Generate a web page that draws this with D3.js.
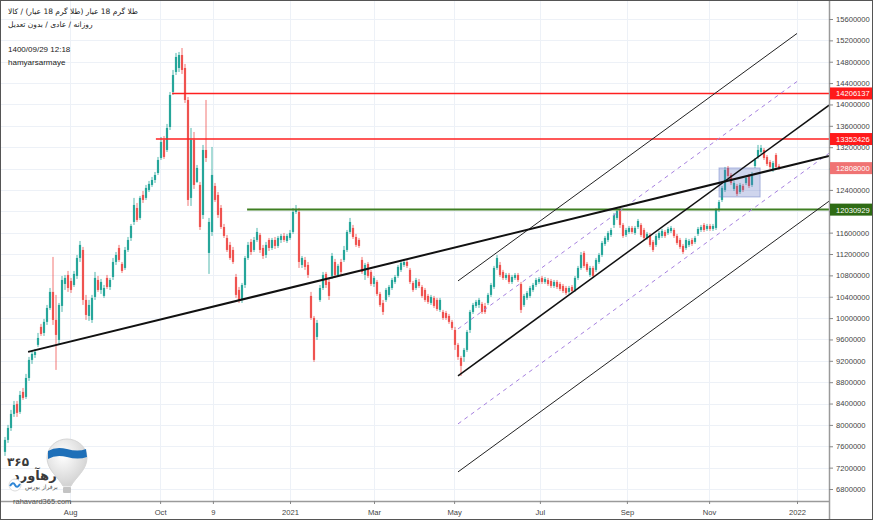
<!DOCTYPE html>
<html>
<head>
<meta charset="utf-8">
<script src="https://cdn.jsdelivr.net/npm/d3@7"></script>
<style>
body{margin:0;background:#fff;}
svg{display:block;font-family:'Liberation Sans',Arial,sans-serif;}
</style>
</head>
<body>
<div id="chart"></div>
<script>
// daily candles [open, high, low, close], thousand rials
const candles = [
[7495,7775,7420,7719],[7719,8000,7663,7943],[7943,8281,7887,8206],[8206,8449,8150,8374],[8393,8449,8150,8225],[8244,8636,8206,8561],[8618,8692,8468,8505],[8524,8955,8486,8879],
[8879,9273,8823,9217],[9217,9385,9142,9329],[9310,9423,9254,9366],[9498,9722,9460,9628],[9835,9891,9666,9703],[9722,9985,9666,9929],[9929,10246,9872,10190],[10190,10564,10153,10490],
[10490,11145,9872,9966],[9966,10434,9030,9685],[9591,10284,9498,10246],[10228,10789,10115,10714],[10639,10808,10527,10752],[10808,10883,10490,10564],[10695,10752,10471,10527],[10620,10883,10583,10827],
[10789,11182,10733,11126],[11126,11444,11051,11370],[11276,11332,10246,10340],[10340,10434,9966,10059],[10040,10340,9947,10246],[9966,10434,9910,10378],[10396,10864,10340,10752],[10714,10789,10490,10527],
[10527,10733,10452,10677],[10415,10620,10378,10564],[10752,10808,10546,10583],[10583,10752,10527,10714],[10770,11126,10714,11051],[11051,11238,10995,11182],[11313,11370,11051,11089],[11014,11051,10845,10883],
[10939,11332,10902,11276],[11276,11519,11238,11463],[11501,11763,11444,11725],[11800,12250,11744,12118],[12062,12156,11800,11838],[11875,12287,11838,12250],[12306,12381,12156,12212],[12250,12493,12212,12437],
[12399,12568,12362,12512],[12493,12643,12456,12586],[12586,12736,12530,12680],[12717,13017,12680,12961],[12998,13391,12961,13298],[13335,13410,12980,13017],[13148,13635,13110,13560],[13578,14234,13522,14178],
[14234,14646,14178,14552],[14608,14964,14552,14889],[14683,14983,14608,14926],[14926,15057,14571,14646],[14683,14758,14028,14084],[14084,14140,12100,12212],[12250,13560,12100,13335],[13335,13485,12418,12493],
[12549,12867,12530,12811],[12493,12549,11650,11706],[11931,13242,11856,13148],[13148,14084,12923,12998],[11220,11875,10827,11800],[11613,13204,11538,12680],[12474,12530,12174,12212],[12306,12362,11875,11931],
[12062,12118,11669,11706],[11706,11763,11501,11538],[11501,11557,11238,11276],[11370,11426,11089,11126],[11276,11332,11014,11051],[10770,10827,10378,10434],[10527,10583,10284,10340],[10340,10658,10284,10620],
[10620,11164,10564,11126],[11126,11426,11089,11370],[11426,11482,11182,11238],[11276,11519,11238,11463],[11463,11688,11426,11613],[11557,11594,11220,11276],[11313,11370,11108,11164],[11182,11426,11126,11370],
[11463,11501,11257,11313],[11313,11501,11276,11463],[11463,11519,11295,11351],[11351,11538,11313,11501],[11463,11576,11407,11538],[11538,11594,11426,11463],[11444,11576,11407,11538],[11501,11650,11463,11594],
[11613,12062,11576,11987],[11987,12118,11950,12044],[11987,12062,10939,11051],[10995,11164,10939,11126],[11089,11145,10902,10958],[10995,11051,10752,10808],[10415,10490,9966,10003],[10003,10040,9180,9217],
[9647,9966,9591,9910],[10340,10620,10303,10564],[10564,10864,10527,10808],[10827,10864,10564,10620],[10677,10752,10340,10415],[10789,11220,10733,11164],[11051,11108,10752,10808],[10808,11014,10770,10977],
[11051,11108,10808,10864],[11089,11351,11051,11276],[11276,11650,11238,11613],[11613,11875,11576,11800],[11688,11744,11482,11519],[11519,11576,11332,11370],[11463,11501,11313,11351],[11089,11145,10827,10864],
[10808,11033,10714,10995],[11014,11051,10752,10789],[10864,10902,10602,10639],[10639,10789,10583,10752],[10677,10714,10415,10452],[10452,10490,10209,10246],[10284,10340,10059,10115],[10340,10564,10303,10527],
[10434,10620,10396,10583],[10564,10752,10527,10714],[10677,10808,10639,10770],[10789,10995,10752,10958],[10902,11070,10864,11033],[10995,11108,10958,11051],[11051,11108,10939,10977],[10902,10939,10639,10677],
[10658,10695,10490,10527],[10564,10752,10527,10714],[10677,10733,10564,10602],[10583,10620,10378,10415],[10527,10564,10303,10340],[10415,10452,10265,10303],[10284,10434,10246,10396],[10378,10415,10190,10228],
[10340,10378,10134,10171],[10153,10378,10115,10340],[10115,10153,9966,10003],[10096,10134,9966,10003],[10040,10078,9891,9929],[9929,9966,9778,9816],[9778,9835,9404,9498],[9498,9535,9217,9273],
[9254,9292,8917,9105],[9273,9441,9180,9404],[9404,9778,9366,9741],[9778,10153,9722,10115],[10115,10284,10078,10246],[10228,10340,10190,10303],[10246,10378,10190,10340],[10265,10303,10078,10115],
[10228,10284,10078,10115],[10284,10471,10246,10434],[10434,10658,10396,10620],[10583,10977,10546,10939],[10939,11182,10902,11126],[10995,11051,10770,10808],[10864,10902,10714,10752],[10752,10845,10714,10808],
[10808,10845,10639,10677],[10677,10808,10639,10770],[10752,10845,10714,10808],[10808,10845,10677,10714],[10639,10677,10096,10153],[10246,10452,10209,10415],[10378,10508,10340,10471],[10415,10602,10378,10564],
[10527,10658,10490,10620],[10620,10752,10583,10714],[10677,10770,10639,10733],[10752,10789,10639,10677],[10677,10770,10639,10733],[10714,10752,10602,10639],[10695,10733,10564,10602],[10602,10714,10564,10677],
[10677,10714,10546,10583],[10639,10677,10508,10546],[10602,10639,10471,10508],[10564,10602,10434,10471],[10490,10602,10452,10564],[10583,10620,10471,10508],[10527,10789,10490,10752],[10752,10977,10714,10939],
[10939,11238,10902,11182],[11220,11257,10939,10977],[11014,11051,10864,10902],[10808,10977,10770,10939],[10939,10977,10752,10789],[10902,11126,10864,11089],[11051,11220,11014,11182],[11182,11444,11145,11407],
[11388,11538,11351,11501],[11463,11632,11426,11594],[11557,11688,11519,11650],[11744,11969,11688,11931],[11875,12044,11838,12006],[12025,12081,11688,11744],[11744,11781,11501,11538],[11557,11688,11519,11650],
[11613,11725,11576,11688],[11688,11725,11576,11613],[11594,11725,11557,11688],[11706,11856,11669,11819],[11744,11781,11519,11557],[11650,11688,11463,11501],[11501,11613,11463,11576],[11557,11594,11332,11370],
[11426,11463,11238,11276],[11370,11576,11332,11538],[11501,11632,11463,11594],[11538,11669,11501,11632],[11613,11650,11501,11538],[11594,11706,11557,11669],[11632,11725,11594,11688],[11650,11688,11501,11538],
[11538,11576,11370,11407],[11463,11501,11295,11332],[11351,11388,11201,11238],[11313,11501,11276,11463],[11370,11482,11332,11444],[11463,11501,11351,11388],[11426,11538,11388,11501],[11576,11706,11538,11669],
[11650,11744,11613,11706],[11744,11781,11613,11650],[11669,11763,11632,11725],[11725,11763,11632,11669],[11669,11763,11632,11725],[11688,12062,11650,12025],[12025,12212,11987,12174],[12212,12474,12174,12437],
[12399,12830,12362,12774],[12811,12848,12624,12661],[12680,12717,12493,12530],[12418,12568,12381,12530],[12474,12512,12287,12325],[12362,12530,12325,12493],[12474,12512,12362,12399],[12530,12661,12493,12624],
[12661,12699,12437,12474],[12493,12736,12456,12699],[12848,12998,12811,12961],[13017,13242,12980,13148],[13110,13242,13073,13185],[13148,13185,12961,12998],[13017,13054,12848,12886],[12923,12961,12792,12830],
[12774,12942,12736,12905],[13054,13091,12792,12830],[12848,12886,12774,12808]
];

const priceTicks = [6800000,7200000,7600000,8000000,8400000,8800000,9200000,9600000,10000000,10400000,10800000,11200000,
  11600000,12000000,12400000,12800000,13200000,13600000,14000000,14400000,14800000,15200000,15600000];
const monthTicks = [21.7, 51.7, 69.3, 95, 123, 149.7, 178.3, 207.3, 234.7, 264];
const monthLabels = ['Aug','Oct','9','2021','Mar','May','Jul','Sep','Nov','2022'];

const levelValues = [14206137, 13352426, 12030929];
const levelStarts = [55.7, 50.3, 80.7];
const lastPrice = 12808000;

// drawings: [startIndex, startPrice, endIndex, endPrice]
const supportLine = [7.7, 9367000, 274.7, 13036000];
const channelLines = [
  [151, 10696000, 264, 15329000],
  [151, 9797000, 264, 14430000],
  [151, 8917000, 274.7, 13987000],
  [151, 8019000, 274.7, 13088000],
  [151, 7120000, 274.7, 12190000]
];
const boxZone = [238, 12811000, 251.7, 12268000];

const W = 873, H = 520, plotR = 829, plotB = 501;

const svg = d3.select('#chart').append('svg')
  .attr('width', W).attr('height', H);

const x = d3.scaleLinear().domain([0, candles.length - 1]).range([5, 779]);
const y = d3.scaleLinear().domain([6800000, 15600000]).range([489, 19]);

const defs = svg.append('defs');
defs.append('clipPath').attr('id', 'clip')
  .append('rect').attr('x', 0).attr('y', 0).attr('width', plotR).attr('height', plotB);

// grid
svg.append('g').selectAll('line').data(priceTicks).join('line')
  .attr('x1', 0).attr('x2', plotR)
  .attr('y1', d => Math.round(y(d)) + 0.5).attr('y2', d => Math.round(y(d)) + 0.5)
  .attr('stroke', '#edf1f7');
svg.append('g').selectAll('line').data(monthTicks).join('line')
  .attr('x1', d => Math.round(x(d)) + 0.5).attr('x2', d => Math.round(x(d)) + 0.5)
  .attr('y1', 0).attr('y2', plotB)
  .attr('stroke', '#edf1f7');

const plot = svg.append('g').attr('clip-path', 'url(#clip)');

// candles
const up = '#26a69a', down = '#ef5350';
const cg = plot.append('g').selectAll('g').data(candles).join('g');
cg.append('line')
  .attr('x1', (d, i) => x(i)).attr('x2', (d, i) => x(i))
  .attr('y1', d => y(d[1] * 1000)).attr('y2', d => y(d[2] * 1000))
  .attr('stroke', d => d[3] >= d[0] ? up : down).attr('stroke-width', 0.8);
cg.append('rect')
  .attr('x', (d, i) => x(i) - 1.1).attr('width', 2.2)
  .attr('y', d => y(Math.max(d[0], d[3]) * 1000))
  .attr('height', d => Math.max(1, Math.abs(y(d[0] * 1000) - y(d[3] * 1000))))
  .attr('fill', d => d[3] >= d[0] ? up : down);

// blue zone box
plot.append('rect')
  .attr('x', x(boxZone[0])).attr('y', y(boxZone[1]))
  .attr('width', x(boxZone[2]) - x(boxZone[0]))
  .attr('height', y(boxZone[3]) - y(boxZone[1]))
  .attr('fill', 'rgba(95,115,195,0.3)').attr('stroke', 'rgba(95,115,195,0.45)');

// horizontal levels
const levelColors = ['#ff2020', '#ff2020', '#3f7f22'];
plot.selectAll('.lvl').data(levelValues).join('line').attr('class', 'lvl')
  .attr('x1', (d, i) => x(levelStarts[i])).attr('x2', plotR)
  .attr('y1', d => y(d)).attr('y2', d => y(d))
  .attr('stroke', (d, i) => levelColors[i]).attr('stroke-width', (d, i) => i == 2 ? 2 : 1.5);

// channel
const chStyle = [
  {w: 1, c: '#222', dash: null},
  {w: 1, c: '#a680e0', dash: '4,4'},
  {w: 1.5, c: '#111', dash: null},
  {w: 1, c: '#a680e0', dash: '4,4'},
  {w: 1, c: '#222', dash: null}
];
plot.selectAll('.ch').data(channelLines).join('line').attr('class', 'ch')
  .attr('x1', d => x(d[0])).attr('y1', d => y(d[1]))
  .attr('x2', d => x(d[2])).attr('y2', d => y(d[3]))
  .attr('stroke', (d, i) => chStyle[i].c)
  .attr('stroke-width', (d, i) => chStyle[i].w)
  .attr('stroke-dasharray', (d, i) => chStyle[i].dash);

plot.append('line')
  .attr('x1', x(supportLine[0])).attr('y1', y(supportLine[1]))
  .attr('x2', x(supportLine[2])).attr('y2', y(supportLine[3]))
  .attr('stroke', '#111').attr('stroke-width', 2);

// axes lines
svg.append('line').attr('x1', 0).attr('x2', plotR).attr('y1', plotB + 0.5).attr('y2', plotB + 0.5)
  .attr('stroke', '#9a9a9a').attr('stroke-width', 1.5);
svg.append('line').attr('x1', plotR + 0.5).attr('x2', plotR + 0.5).attr('y1', 0).attr('y2', H)
  .attr('stroke', '#9a9a9a').attr('stroke-width', 1.5);

// right axis
const yAxis = d3.axisRight(y).tickValues(priceTicks).tickSize(4).tickPadding(3).tickFormat(d3.format('d'));
const ya = svg.append('g').attr('transform', `translate(${plotR},0)`).call(yAxis);
ya.select('.domain').remove();
ya.selectAll('line').attr('stroke', '#888');
ya.selectAll('text').attr('fill', '#444').style('font-size', '7.6px').style('font-family', "'Liberation Sans',Arial,sans-serif");

// bottom axis
const xAxis = d3.axisBottom(x).tickValues(monthTicks).tickSize(3).tickPadding(6)
  .tickFormat((d, i) => monthLabels[i]);
const xa = svg.append('g').attr('transform', `translate(0,${plotB})`).call(xAxis);
xa.select('.domain').remove();
xa.selectAll('line').attr('stroke', '#888');
xa.selectAll('text').attr('fill', '#444').style('font-size', '7.6px').style('font-family', "'Liberation Sans',Arial,sans-serif");

// price labels on the axis
const tags = [
  {v: levelValues[0], c: '#ff1a1a'},
  {v: levelValues[1], c: '#ff1a1a'},
  {v: lastPrice, c: '#f07373'},
  {v: levelValues[2], c: '#2e6b14'}
];
const tg = svg.append('g').selectAll('g').data(tags).join('g')
  .attr('transform', d => `translate(${plotR + 1},${y(d.v)})`);
tg.append('rect').attr('x', 0).attr('y', -6).attr('width', W - plotR - 2).attr('height', 12)
  .attr('fill', d => d.c);
tg.append('text').attr('x', 6).attr('y', 3).attr('fill', '#fff')
  .style('font-size', '7.6px').text(d => d3.format('d')(d.v));

// header
const fa = "'DejaVu Sans',sans-serif";
svg.append('text').attr('x', 8).attr('y', 14).attr('fill', '#222')
  .style('font-size', '7.5px').style('font-family', fa).text('طلا گرم 18 عیار (طلا گرم 18 عیار) / کالا');
svg.append('text').attr('x', 8).attr('y', 27).attr('fill', '#222')
  .style('font-size', '7.5px').style('font-family', fa).text('روزانه / عادی / بدون تعدیل');
svg.append('text').attr('x', 8).attr('y', 52).attr('fill', '#222').style('font-size', '8px').text('1400/09/29 12:18');
svg.append('text').attr('x', 8).attr('y', 65).attr('fill', '#222').style('font-size', '8px').text('hamyarsarmaye');

// logo
const lg = svg.append('g');
const grad = defs.append('radialGradient').attr('id', 'bal').attr('cx', '40%').attr('cy', '35%').attr('r', '70%');
grad.append('stop').attr('offset', '0%').attr('stop-color', '#ffffff');
grad.append('stop').attr('offset', '100%').attr('stop-color', '#cfcfcf');
lg.append('path')
  .attr('d', 'M47,458 A20,19 0 1,1 87,458 C87,470 75,478 71,486 L63,486 C59,478 47,470 47,458 Z')
  .attr('fill', 'url(#bal)').attr('stroke', '#d6d6d6');
lg.append('path')
  .attr('d', 'M48,451 Q56,446 67,449 Q78,452 86,449 L87,457 Q78,460 67,457 Q56,454 48,459 Z')
  .attr('fill', '#1e6fb8');
lg.append('rect').attr('x', 63).attr('y', 487).attr('width', 8).attr('height', 6).attr('rx', 1).attr('fill', '#c4c4c4');
lg.append('text').attr('x', 7).attr('y', 466).attr('fill', '#3a3a3a')
  .style('font-family', fa).style('font-size', '12px').style('font-weight', 'bold').text('۳۶۵');
lg.append('text').attr('x', 13).attr('y', 480).attr('fill', '#3a3a3a')
  .style('font-family', fa).style('font-size', '13px').style('font-weight', 'bold').text('رهآورد');
lg.append('circle').attr('cx', 15).attr('cy', 485).attr('r', 6).attr('fill', '#fff').attr('stroke', '#ddd');
lg.append('path').attr('d', 'M10,486 Q13,481 15,485 Q17,489 20,484').attr('fill', 'none').attr('stroke', '#2f86d6').attr('stroke-width', 2);
lg.append('text').attr('x', 25).attr('y', 489).attr('fill', '#555')
  .style('font-family', fa).style('font-size', '6px').text('برفراز بورس');
lg.append('text').attr('x', 13).attr('y', 504).attr('fill', '#555').style('font-size', '7.5px').text('rahavard365.com');

// frame
svg.append('rect').attr('x', 0.5).attr('y', 0.5).attr('width', W - 1).attr('height', H - 1)
  .attr('fill', 'none').attr('stroke', '#555');
</script>
</body>
</html>
